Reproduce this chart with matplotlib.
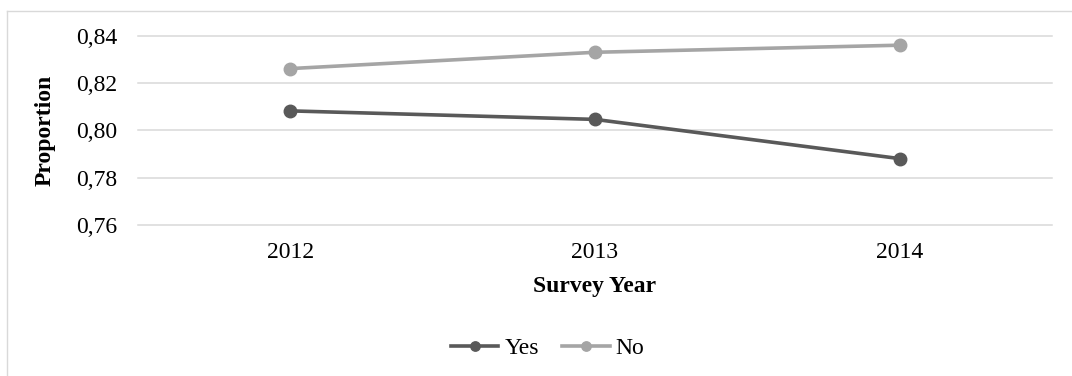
import matplotlib
matplotlib.use("Agg")
import matplotlib.pyplot as plt
from matplotlib.lines import Line2D
from matplotlib.ticker import FuncFormatter

years = ["2012", "2013", "2014"]
yes_vals = [0.8083, 0.8047, 0.7881]
no_vals = [0.8262, 0.8331, 0.8361]
y_ticks = [0.76, 0.78, 0.80, 0.82, 0.84]

plt.rcParams["font.family"] = ["Liberation Serif", "DejaVu Serif"]

fig = plt.figure(figsize=(10.72, 3.76), dpi=100)
ax = fig.add_axes([0.1287, 0.4016, 0.8526, 0.5027])

x = range(len(years))
ax.plot(x, yes_vals, color="#595959", lw=2.6, marker="o", ms=9, label="Yes")
ax.plot(x, no_vals, color="#A5A5A5", lw=2.6, marker="o", ms=9, label="No")

ax.set_xlim(-0.5, len(years) - 0.5)
ax.set_ylim(y_ticks[0], y_ticks[-1])
ax.set_xticks(list(x))
ax.set_xticklabels(years)
ax.set_yticks(y_ticks)
ax.yaxis.set_major_formatter(FuncFormatter(lambda v, p: f"{v:.2f}".replace(".", ",")))
ax.tick_params(axis="both", length=0, labelsize=17, colors="#000000")
ax.tick_params(axis="y", pad=15)
ax.tick_params(axis="x", pad=12)
ax.grid(True, axis="y", color="#D9D9D9", lw=1.1)
ax.set_axisbelow(True)
for gl in ax.get_ygridlines():
    gl.set_clip_on(False)
for s in ax.spines.values():
    s.set_visible(False)

fig.text(0.555, 0.237, "Survey Year", ha="center", va="center", fontsize=17, fontweight="bold")
fig.text(0.042, 0.652, "Proportion", ha="center", va="center", rotation=90, fontsize=17, fontweight="bold")

fig.legend(loc="center", bbox_to_anchor=(0.511, 0.074), ncol=2, frameon=False,
           fontsize=17, handlelength=2.0, handletextpad=0.25, columnspacing=1.0, markerscale=0.75)

# light frame at left and top of the chart area
fig.add_artist(Line2D([7 / 1072, 7 / 1072], [0, 1 - 11 / 376], color="#D9D9D9", lw=1, transform=fig.transFigure))
fig.add_artist(Line2D([7 / 1072, 1], [1 - 11 / 376, 1 - 11 / 376], color="#D9D9D9", lw=1, transform=fig.transFigure))

fig.savefig("out.png", dpi=100)
